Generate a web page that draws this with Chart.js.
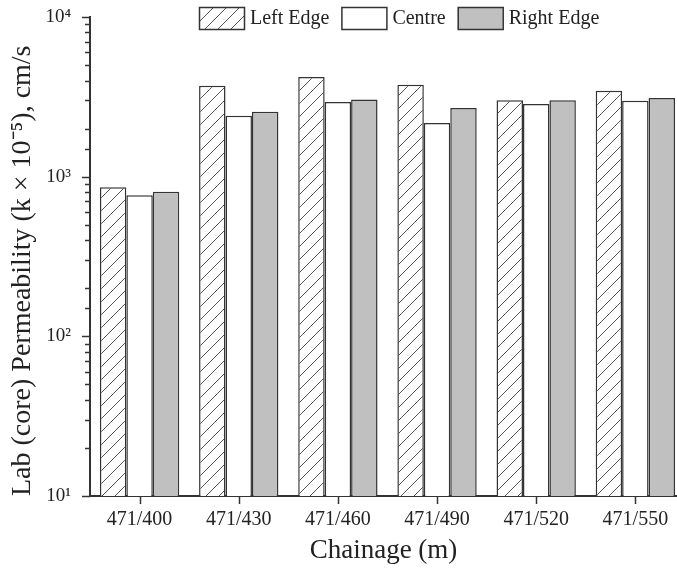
<!DOCTYPE html>
<html>
<head>
<meta charset="utf-8">
<script src="https://cdn.jsdelivr.net/npm/chart.js@4/dist/chart.umd.min.js"></script>
<style>
html,body{margin:0;padding:0;background:#fff;}
#wrap{width:677px;height:571px;position:relative;}
</style>
</head>
<body>
<div id="wrap"><canvas id="c" width="677" height="571"></canvas></div>
<script>
// ---- data ----
const categories = ['471/400','471/430','471/460','471/490','471/520','471/550'];
const seriesNames = ['Left Edge','Centre','Right Edge'];
const leftEdge  = [857, 3715, 4209, 3767, 3006, 3455];
const centre    = [764, 2410, 2936, 2168, 2850, 2992];
const rightEdge = [805, 2553, 3048, 2692, 3006, 3110];
const yTickLabels = {1:'10\u00B9', 2:'10\u00B2', 3:'10\u00B3', 4:'10\u2074'};
const xTitle = 'Chainage (m)';
const yTitle = 'Lab (core) Permeability (k \u00D7 10\u207B\u2075), cm/s';

const FONT = '"Liberation Serif", "Times New Roman", serif';
const TXT = '#222';
const EDGE = '#333';
const CLEAR = 'rgba(0,0,0,0)';

function hatchPattern(){
  const s = 13;
  const cv = document.createElement('canvas');
  cv.width = s; cv.height = s;
  const g = cv.getContext('2d');
  g.fillStyle = '#fff'; g.fillRect(0,0,s,s);
  g.strokeStyle = '#555'; g.lineWidth = 1;
  g.beginPath();
  g.moveTo(0, s); g.lineTo(s, 0);
  g.moveTo(-s/2, s/2); g.lineTo(s/2, -s/2);
  g.moveTo(s/2, s*1.5); g.lineTo(s*1.5, s/2);
  g.stroke();
  return document.getElementById('c').getContext('2d').createPattern(cv, 'repeat');
}

const toPts = arr => arr.map((v,i)=>({x:i+1, y:v}));

const tickPlugin = {
  id:'customTicks',
  afterDraw(chart){
    const ctx = chart.ctx;
    const ys = chart.scales.y, xs = chart.scales.x;
    const ca = chart.chartArea;
    ctx.save();
    ctx.strokeStyle = EDGE; ctx.lineWidth = 1.5;
    ys.ticks.forEach(t=>{
      const y = Math.round(ys.getPixelForValue(t.value)) + 0.5;
      const lg = Math.log10(t.value);
      const major = Math.abs(lg - Math.round(lg)) < 1e-9;
      const len = major ? 8 : 5;
      ctx.beginPath(); ctx.moveTo(ca.left, y); ctx.lineTo(ca.left - len, y); ctx.stroke();
    });
    xs.ticks.forEach(t=>{
      const x = Math.round(xs.getPixelForValue(t.value)) + 0.5;
      ctx.beginPath(); ctx.moveTo(x, ca.bottom); ctx.lineTo(x, ca.bottom + 8); ctx.stroke();
    });
    // legend
    let lx = 199; const ly = 7, bw = 45, bh = 22;
    ctx.font = '20px ' + FONT;
    ctx.textBaseline = 'middle';
    ctx.textAlign = 'left';
    chart.data.datasets.forEach(ds=>{
      ctx.fillStyle = ds.backgroundColor;
      ctx.fillRect(lx, ly, bw, bh);
      ctx.strokeStyle = EDGE; ctx.lineWidth = 1.5;
      ctx.strokeRect(lx+0.5, ly+0.5, bw, bh);
      ctx.fillStyle = TXT;
      ctx.fillText(ds.label, lx + bw + 6, ly + bh/2 + 1);
      lx += bw + 6 + ctx.measureText(ds.label).width + 12;
    });
    ctx.restore();
  }
};

const pattern = hatchPattern();

new Chart(document.getElementById('c'), {
  type:'bar',
  data:{
    datasets:[
      {label:seriesNames[0], data:toPts(leftEdge), backgroundColor:pattern, borderColor:EDGE, borderWidth:1.5},
      {label:seriesNames[1], data:toPts(centre), backgroundColor:'#ffffff', borderColor:EDGE, borderWidth:1.5},
      {label:seriesNames[2], data:toPts(rightEdge), backgroundColor:'#c0c0c0', borderColor:EDGE, borderWidth:1.5}
    ]
  },
  options:{
    responsive:false,
    animation:false,
    devicePixelRatio:1,
    layout:{padding:{top:17, right:0, left:0, bottom:0}},
    datasets:{bar:{categoryPercentage:0.8, barPercentage:1.0}},
    plugins:{legend:{display:false}, tooltip:{enabled:false}},
    scales:{
      x:{
        type:'linear', min:0.5, max:6.42, offset:false,
        grid:{display:true, drawOnChartArea:false, drawTicks:true, tickLength:12, tickColor:CLEAR},
        border:{display:true, color:EDGE, width:2},
        afterBuildTicks(axis){ axis.ticks = categories.map((c,i)=>({value:i+1})); },
        afterFit(scale){ scale.height = 75; },
        ticks:{
          autoSkip:false, maxRotation:0, padding:0,
          color:TXT, font:{family:FONT, size:20},
          callback:(v)=>categories[Math.round(v)-1] || ''
        },
        title:{display:true, text:xTitle, color:TXT, font:{family:FONT, size:27}, padding:{top:0,bottom:4}}
      },
      y:{
        type:'logarithmic', min:10, max:10000,
        grid:{display:true, drawOnChartArea:false, drawTicks:true, tickLength:18, tickColor:CLEAR},
        border:{display:true, color:EDGE, width:2},
        afterFit(scale){ scale.width = 90; },
        ticks:{
          autoSkip:false, padding:1,
          color:TXT, font:{family:FONT, size:19},
          callback:(v)=>{
            const lg = Math.log10(v);
            const r = Math.round(lg);
            return Math.abs(lg - r) < 1e-9 ? (yTickLabels[r] || '') : '';
          }
        },
        title:{display:true, text:yTitle, align:'start', color:TXT, font:{family:FONT, size:28}, padding:{top:6,bottom:0}}
      }
    }
  },
  plugins:[tickPlugin]
});
</script>
</body>
</html>
